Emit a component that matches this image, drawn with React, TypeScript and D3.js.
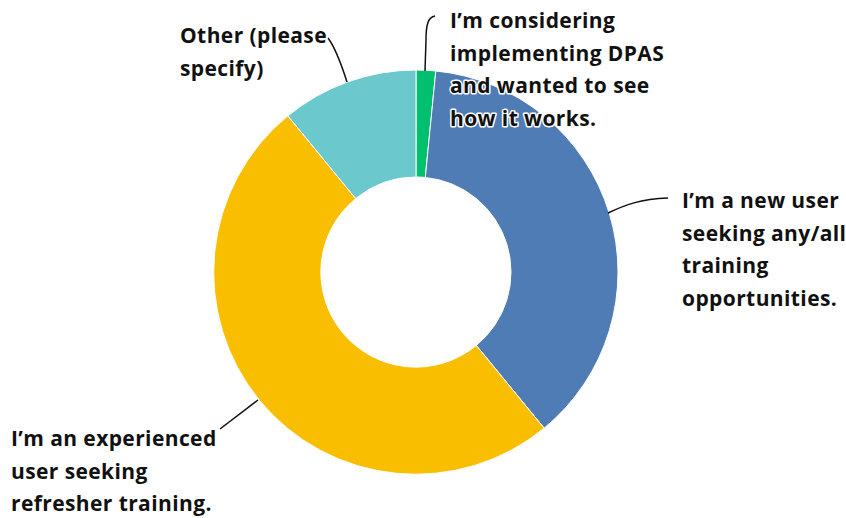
import React from "react";
import * as d3 from "d3";

// Survey responses: reason for attending training
const categories = [
  "I’m considering implementing DPAS and wanted to see how it works.",
  "I’m a new user seeking any/all training opportunities.",
  "I’m an experienced user seeking refresher training.",
  "Other (please specify)",
];
const counts = [1, 24, 32, 7];
const colors = ["#00BF6F", "#507CB6", "#F9BE00", "#6BC8CD"];

// Wrapped label lines for each category
const labelLines = [
  ["I’m considering", "implementing DPAS", "and wanted to see", "how it works."],
  ["I’m a new user", "seeking any/all", "training", "opportunities."],
  ["I’m an experienced", "user seeking", "refresher training."],
  ["Other (please", "specify)"],
];

const W = 846;
const H = 518;
const cx = 416;
const cy = 272;
const outerR = 202;
const innerR = 95;

const labelPos: [number, number][] = [
  [450, 20],
  [682, 200],
  [11, 438],
  [180, 35],
];
const lineStep = 32.5;

export default function App() {
  const pie = d3
    .pie<number>()
    .value((d) => d)
    .sort(null)
    .startAngle(0)
    .endAngle(2 * Math.PI);
  const arcs = pie(counts);
  const arc = d3.arc<d3.PieArcDatum<number>>().innerRadius(innerR).outerRadius(outerR);

  // Leader lines from label to slice edge
  const leaders = [
    "M435,16 C428,17 426,25 426,40 L425,71",
    "M668,198 C640,199 625,205 608,213",
    "M220,429 L258,400",
    "M328,38 C334,46 340,60 347,82",
  ];

  return (
    <svg
      width={W}
      height={H}
      style={{ position: "absolute", left: 0, top: 0, background: "#fff" }}
    >
      <g transform={`translate(${cx},${cy})`}>
        {arcs.map((a, i) => (
          <path key={i} d={arc(a) || ""} fill={colors[i]} stroke="#fff" strokeWidth={1} />
        ))}
      </g>
      {leaders.map((d, i) => (
        <path key={i} d={d} fill="none" stroke="#111" strokeWidth={1.5} />
      ))}
      {labelLines.map((lines, i) => (
        <text
          key={i}
          fontFamily="'Open Sans', sans-serif"
          fontWeight={700}
          fontSize={21}
          letterSpacing={0.4}
          fill="#111"
          stroke="#fff"
          strokeWidth={3}
          strokeLinejoin="round"
          style={{ paintOrder: "stroke" }}
          dominantBaseline="central"
        >
          {lines.map((t, j) => (
            <tspan key={j} x={labelPos[i][0]} y={labelPos[i][1] + j * lineStep}>
              {t}
            </tspan>
          ))}
        </text>
      ))}
    </svg>
  );
}
